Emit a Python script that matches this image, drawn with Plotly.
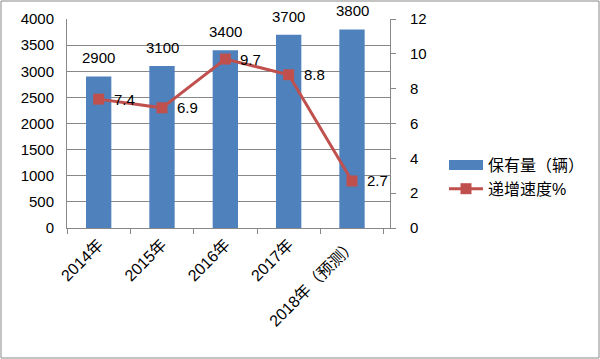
import plotly.graph_objects as go

categories = ["2014年", "2015年", "2016年", "2017年", "2018年（预测）"]
stock = [2900, 3100, 3400, 3700, 3800]
growth = [7.4, 6.9, 9.7, 8.8, 2.7]
bar_name = "保有量（辆）"
line_name = "递增速度%"

W, H = 600, 359
ML, MR, MT, MB = 67, 210, 19, 131
pw, ph = W - ML - MR, H - MT - MB

font_family = "Liberation Sans, Noto Sans CJK SC, sans-serif"
BLUE = "#4F81BD"
RED = "#C0504D"

fig = go.Figure()
fig.add_trace(go.Bar(
    x=categories, y=stock, name=bar_name, showlegend=False,
    marker=dict(color=BLUE, line=dict(width=0)),
    width=0.4,
))
# legend entry for the bars (wide rectangle like the original)
fig.add_trace(go.Scatter(
    x=[None], y=[None], name=bar_name, mode="lines",
    line=dict(color=BLUE, width=10),
))
fig.add_trace(go.Scatter(
    x=categories, y=growth, name=line_name, yaxis="y2",
    mode="lines+markers",
    line=dict(color=RED, width=3),
    marker=dict(symbol="square", size=11, color=RED),
    cliponaxis=False,
))

for c, v in zip(categories, stock):
    fig.add_annotation(x=c, y=v, xref="x", yref="y", text=str(v),
                       showarrow=False, yanchor="bottom", yshift=8,
                       font=dict(size=15, color="#000"))
for c, v in zip(categories, growth):
    fig.add_annotation(x=c, y=v, xref="x", yref="y2", text=str(v),
                       showarrow=False, xanchor="left", yanchor="middle", xshift=13,
                       font=dict(size=15, color="#000"))

fig.update_layout(
    width=W, height=H,
    margin=dict(l=ML, r=MR, t=MT, b=MB, autoexpand=False),
    paper_bgcolor="white", plot_bgcolor="white",
    font=dict(family=font_family, size=15, color="#000"),
    showlegend=True,
    legend=dict(x=(444 - ML) / pw, y=(228 - 148) / ph, xanchor="left", yanchor="top",
                font=dict(size=16), tracegroupgap=4, itemwidth=34,
                bgcolor="rgba(0,0,0,0)"),
    xaxis=dict(
        type="category", tickangle=-45, ticks="outside", tickson="boundaries",
        ticklen=5, tickcolor="#888", showline=True, linecolor="#888", linewidth=1,
        showgrid=False, tickfont=dict(size=16), automargin=False,
    ),
    yaxis=dict(
        range=[0, 4000], dtick=500, showgrid=True, gridcolor="#888", gridwidth=1,
        showline=True, linecolor="#888", ticks="", zeroline=False,
        tickfont=dict(size=15), automargin=False, ticklabelstandoff=9,
    ),
    yaxis2=dict(
        range=[0, 12], dtick=2, overlaying="y", side="right", showgrid=False,
        showline=True, linecolor="#888", ticks="outside", ticklen=5, tickcolor="#888",
        zeroline=False, tickfont=dict(size=15), automargin=False, ticklabelstandoff=11,
    ),
)

# outer border of the picture
fig.add_shape(type="rect", xref="paper", yref="paper",
              x0=(-ML + 1) / pw, x1=(W - ML - 1) / pw,
              y0=(-MB + 1) / ph, y1=(H - MB - 1) / ph,
              line=dict(color="#888", width=1), layer="below")

fig.write_html("out.html", config={"displayModeBar": False},
               post_script="document.body.style.margin='0';document.body.style.overflow='hidden';")
